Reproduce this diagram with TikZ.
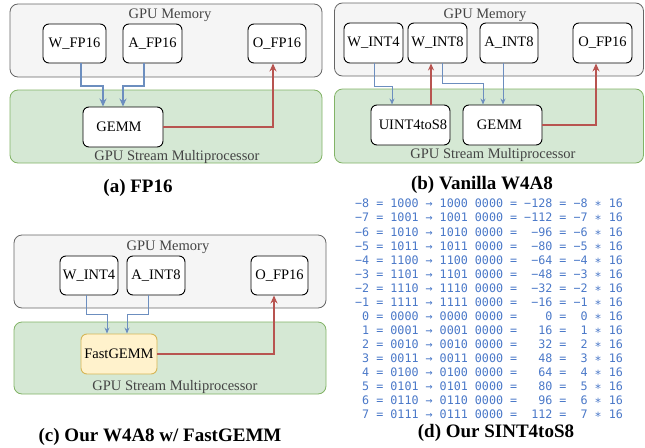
\documentclass[tikz,border=0pt]{standalone}
\usepackage{fontspec}
\setmainfont{Liberation Serif}
\newfontfamily\monofont{DejaVu Sans Mono}
\usetikzlibrary{arrows.meta,calc}
\definecolor{memfill}{HTML}{F5F5F5}
\definecolor{memline}{HTML}{666666}
\definecolor{smfill}{HTML}{D5E8D4}
\definecolor{smline}{HTML}{82B366}
\definecolor{fgfill}{HTML}{FFF2CC}
\definecolor{fgline}{HTML}{D6B656}
\definecolor{bluearr}{HTML}{6C8EBF}
\definecolor{redarr}{HTML}{B85450}
\definecolor{tabblue}{HTML}{4A78C8}
\definecolor{lbl}{HTML}{444444}
\tikzset{
  memregion/.style={draw=memline, fill=memfill, line width=0.8pt, rounded corners=8pt, inner sep=0pt},
  smregion/.style={draw=smline, fill=smfill, line width=0.8pt, rounded corners=8pt, inner sep=0pt},
  box/.style={draw=black, fill=white, line width=0.9pt, rounded corners=6pt, inner sep=0pt, font=\fontsize{14.5}{16}\selectfont},
  fgbox/.style={box, draw=fgline, fill=fgfill},
  regionlabel/.style={text=lbl, inner sep=0pt, font=\fontsize{14.5}{16}\selectfont},
  caption/.style={inner sep=0pt, font=\fontsize{19}{22}\selectfont\bfseries},
  bthick/.style={draw=bluearr, line width=2pt, -{Stealth[length=8pt,width=7pt]}},
  bthin/.style={draw=bluearr, line width=1pt, -{Stealth[length=6pt,width=5pt]}},
  rmid/.style={draw=redarr, line width=1.4pt, -{Stealth[length=7pt,width=6pt]}},
  rthick/.style={draw=redarr, line width=2pt, -{Stealth[length=8pt,width=7pt]}},
}
\begin{document}
\begin{tikzpicture}[x=1pt,y=-1pt]
\useasboundingbox (0,0) rectangle (645,447);
% ---------------- (a) ----------------
\node[memregion, minimum width=312pt, minimum height=73pt] (mema) at (166,40.5) {};
\node[smregion, minimum width=312pt, minimum height=73pt] (sma) at (166,126.5) {};
\node[regionlabel] (lmema) at (170,15) {GPU Memory};
\node[regionlabel] (lsma) at (177,157) {GPU Stream Multiprocessor};
\node[box, minimum width=63pt, minimum height=39pt] (wa) at (74.5,43.5) {W\_FP16};
\node[box, minimum width=59pt, minimum height=39pt] (aa) at (152.5,43.5) {A\_FP16};
\node[box, minimum width=58pt, minimum height=39pt] (oa) at (277,43.5) {O\_FP16};
\node[box, minimum width=80pt, minimum height=40pt] (ga) at (123,127) {\hspace*{-8pt}GEMM};
\draw[bthick] ([xshift=6.5pt]wa.south) -- ++(0,23) -| ([xshift=-20pt]ga.north);
\draw[bthick] ([xshift=-8.5pt]aa.south) -- ++(0,23) -| (ga.north);
\draw[rthick] (ga.east) -| ([xshift=-4pt]oa.south);
\node[caption] (capa) at (138,188) {(a) FP16};
% ---------------- (b) ----------------
\node[memregion, minimum width=309pt, minimum height=73pt] (memb) at (489,39.5) {};
\node[smregion, minimum width=309pt, minimum height=74pt] (smb) at (489,126) {};
\node[regionlabel] (lmemb) at (485,15) {GPU Memory};
\node[regionlabel] (lsmb) at (493,155) {GPU Stream Multiprocessor};
\node[box, minimum width=59pt, minimum height=40pt] (w4b) at (373.5,43) {W\_INT4};
\node[box, minimum width=59pt, minimum height=40pt] (w8b) at (437.5,43) {W\_INT8};
\node[box, minimum width=58pt, minimum height=40pt] (ab) at (509,43) {A\_INT8};
\node[box, minimum width=59pt, minimum height=40pt] (ob) at (602.5,43) {O\_FP16};
\node[box, minimum width=79pt, minimum height=40pt] (ub) at (410.5,125) {\hspace*{5pt}UINT4toS8};
\node[box, minimum width=79pt, minimum height=40pt] (gb) at (502.5,125) {\hspace*{-6pt}GEMM};
\draw[bthin] ([xshift=0.5pt]w4b.south) -- ++(0,23) -| ([xshift=-18.5pt]ub.north);
\draw[rmid] ([xshift=20.5pt]ub.north) -- ([xshift=20.5pt]ub.north |- w8b.south);
\draw[bthin] ([xshift=4.5pt]w8b.south) -- ++(0,20) -| ([xshift=-19.5pt]gb.north);
\draw[bthin] ([xshift=-6pt]ab.south) -- ([xshift=-6pt]ab.south |- gb.north);
\draw[rthick] (gb.east) -| ([xshift=-6.5pt]ob.south);
\node[caption] (capb) at (482,185) {(b) Vanilla W4A8};
% ---------------- (c) ----------------
\node[memregion, minimum width=312pt, minimum height=73pt] (memc) at (170,271.5) {};
\node[smregion, minimum width=312pt, minimum height=72pt] (smc) at (170,358) {};
\node[regionlabel] (lmemc) at (168,247) {GPU Memory};
\node[regionlabel] (lsmc) at (175,387) {GPU Stream Multiprocessor};
\node[box, minimum width=58pt, minimum height=39pt] (wc) at (89,275.5) {W\_INT4};
\node[box, minimum width=58pt, minimum height=39pt] (ac) at (156,275.5) {A\_INT8};
\node[box, minimum width=57pt, minimum height=39pt] (oc) at (279.5,275.5) {O\_FP16};
\node[fgbox, minimum width=76pt, minimum height=40pt] (fc) at (119,354) {FastGEMM};
\draw[bthin] ([xshift=-3pt]wc.south) -- ++(0,19) -| ([xshift=-12pt]fc.north);
\draw[bthin] ([xshift=-8pt]ac.south) -- ++(0,19) -| ([xshift=8pt]fc.north);
\draw[rthick] (fc.east) -| ([xshift=-5.5pt]oc.south);
\node[caption] (capc) at (160,437) {(c) Our W4A8 w/ FastGEMM};
% ---------------- (d) ----------------
\node[anchor=north west, inner sep=0pt, text=tabblue, align=left,
      font=\fontsize{11.7}{14.07}\monofont] (tab) at (355,199) {%
−8~=~1000~→~1000~0000~=~−128~=~−8~∗~16\\
−7~=~1001~→~1001~0000~=~−112~=~−7~∗~16\\
−6~=~1010~→~1010~0000~=~~−96~=~−6~∗~16\\
−5~=~1011~→~1011~0000~=~~−80~=~−5~∗~16\\
−4~=~1100~→~1100~0000~=~~−64~=~−4~∗~16\\
−3~=~1101~→~1101~0000~=~~−48~=~−3~∗~16\\
−2~=~1110~→~1110~0000~=~~−32~=~−2~∗~16\\
−1~=~1111~→~1111~0000~=~~−16~=~−1~∗~16\\
~0~=~0000~→~0000~0000~=~~~~0~=~~0~∗~16\\
~1~=~0001~→~0001~0000~=~~~16~=~~1~∗~16\\
~2~=~0010~→~0010~0000~=~~~32~=~~2~∗~16\\
~3~=~0011~→~0011~0000~=~~~48~=~~3~∗~16\\
~4~=~0100~→~0100~0000~=~~~64~=~~4~∗~16\\
~5~=~0101~→~0101~0000~=~~~80~=~~5~∗~16\\
~6~=~0110~→~0110~0000~=~~~96~=~~6~∗~16\\
~7~=~0111~→~0111~0000~=~~112~=~~7~∗~16};
\node[caption] (capd) at (496,433) {(d) Our SINT4toS8};
\end{tikzpicture}
\end{document}
